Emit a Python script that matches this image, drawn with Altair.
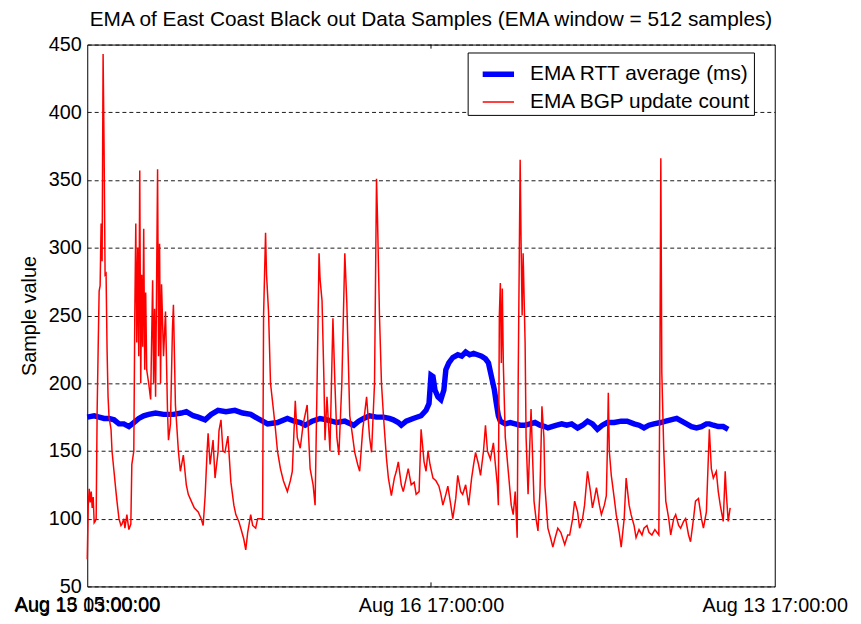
import altair as alt
import pandas as pd

# ---- data ----
series_names = ["EMA RTT average (ms)", "EMA BGP update count"]
series_colors = ["#0000ff", "#ff0000"]
series_widths = [5.5, 1.5]

rtt_sample = [0, 14, 24, 34, 44, 54, 64, 74, 84, 94, 104, 114, 124, 138, 154, 174, 190, 200, 214, 224,
              238, 250, 264, 280, 298, 314, 330, 344, 354, 364, 384, 404, 418, 430, 440, 454, 470, 484,
              504, 520, 538, 548, 558, 570, 584, 598, 610, 618, 628, 634, 644, 658, 674, 684, 690, 694,
              698, 702, 708, 714, 720, 724, 730, 738, 748, 756, 764, 772, 780, 788, 796, 804, 810, 816,
              822, 826, 830, 834, 844, 854, 864, 874, 884, 894, 904, 914, 924, 930, 938, 948, 958, 968,
              978, 990, 1000, 1010, 1020, 1030, 1040, 1050, 1064, 1078, 1090, 1104, 1114, 1124, 1134,
              1144, 1158, 1168, 1178, 1190, 1200, 1210, 1220, 1230, 1240, 1250, 1256, 1264, 1274, 1284, 1294]
rtt_value = [175, 176, 175, 174, 174, 173, 170, 170, 168, 171, 174, 176, 177, 178, 177, 177, 178, 179, 176, 175,
             173, 177, 180, 179, 180, 178, 177, 174, 172, 170, 171, 174, 172, 171, 169, 172, 174, 173,
             171, 172, 169, 172, 174, 176, 175, 175, 174, 173, 171, 169, 172, 174, 176, 180, 185, 206,
             205, 195, 190, 188, 195, 210, 215, 219, 221, 220, 223, 221, 222, 221, 220, 218, 215, 205,
             195, 185, 176, 172, 170, 171, 170, 169, 169, 170, 171, 169, 168, 167, 168, 169, 170, 169,
             170, 167, 169, 172, 170, 166, 169, 171, 171, 172, 172, 170, 169, 167, 169,
             170, 171, 172, 173, 174, 172, 170, 168, 167, 168, 170, 170, 169, 168, 168, 166]

bgp_sample = [0, 2, 4, 6, 8, 10, 12, 14, 16, 18, 20, 22, 24, 26, 28, 30, 32, 34, 36, 38, 40, 42, 44, 48, 50,
              54, 58, 60, 64, 68, 70, 74, 76, 80, 84, 88, 90, 94, 96, 98, 100, 102, 104, 106, 108, 110, 112,
              114, 116, 118, 120, 124, 128, 132, 134, 136, 138, 142, 144, 146, 148, 150, 154, 158, 162, 164,
              168, 172, 174, 178, 184, 188, 194, 200, 204, 210, 216, 224, 230, 234, 238, 242, 244, 248, 254,
              258, 264, 266, 270, 274, 278, 284, 290, 296, 300, 306, 310, 316, 320, 324, 330, 334, 340, 344,
              350, 354, 356, 360, 362, 366, 370, 376, 380, 384, 390, 396, 404, 410, 414, 420, 424, 430, 436,
              444, 450, 456, 460, 464, 468, 470, 474, 478, 480, 484, 490, 496, 500, 504, 508, 514, 520, 524,
              530, 536, 540, 546, 550, 556, 564, 570, 574, 580, 584, 586, 590, 594, 598, 604, 608, 614, 620,
              624, 628, 634, 638, 644, 648, 654, 660, 664, 670, 674, 680, 684, 688, 692, 698, 704, 710, 714,
              718, 724, 728, 734, 738, 744, 748, 754, 758, 764, 770, 776, 780, 784, 790, 794, 800, 804, 808,
              814, 820, 824, 828, 830, 832, 834, 836, 838, 840, 844, 850, 856, 860, 864, 868, 870, 874, 876,
              878, 880, 884, 886, 890, 896, 902, 906, 910, 914, 918, 922, 924, 930, 936, 940, 944, 950, 956,
              964, 970, 974, 980, 984, 990, 994, 1000, 1004, 1010, 1016, 1020, 1024, 1028, 1034, 1038, 1044,
              1048, 1050, 1052, 1054, 1058, 1064, 1068, 1074, 1078, 1084, 1088, 1094, 1098, 1104, 1108, 1114,
              1120, 1124, 1130, 1134, 1140, 1146, 1150, 1154, 1156, 1158, 1160, 1164, 1168, 1174, 1178, 1184,
              1188, 1194, 1198, 1204, 1208, 1214, 1218, 1224, 1228, 1234, 1240, 1244, 1250, 1256, 1260, 1264,
              1270, 1274, 1278, 1284, 1288, 1290, 1294, 1298]
bgp_value = [70, 110, 122, 112, 120, 108, 116, 97, 98, 100, 180, 225, 268, 272, 318, 290, 443, 372, 280, 281, 225, 190, 175, 166, 150,
             135, 120, 113, 100, 95, 96, 100, 93, 103, 92, 96, 140, 150, 250, 318, 230, 300, 220, 357, 200, 280, 227,
             314, 210, 267, 210, 200, 188, 276, 200, 255, 190, 358, 220, 303, 200, 273, 220, 253, 180, 158,
             170, 240, 258, 184, 150, 135, 147, 125, 118, 113, 108, 105, 100, 95, 117, 150, 163, 140, 158,
             130, 149, 165, 173, 150, 149, 161, 127, 110, 103, 98, 93, 85, 77, 90, 103, 95, 93, 100,
             100, 100, 250, 311, 280, 253, 200, 180, 166, 150, 137, 128, 120, 128, 135, 187, 160, 152, 170,
             184, 137, 125, 110, 200, 296, 277, 261, 200, 158, 190, 150, 248, 200, 160, 147, 200, 296, 260,
             176, 160, 149, 140, 135, 165, 190, 160, 149, 200, 351, 322, 250, 200, 176, 145, 130, 117, 130,
             135, 142, 125, 120, 130, 137, 125, 127, 118, 120, 166, 142, 135, 150, 140, 130, 128, 124, 118,
             110, 118, 124, 110, 100, 115, 132, 120, 118, 125, 110, 130, 140, 149, 140, 132, 150, 169, 150,
             144, 156, 140, 125, 110, 250, 274, 215, 270, 215, 160, 135, 110, 103, 120, 86, 200, 365, 300,
             250, 296, 230, 160, 118, 181, 113, 100, 91, 120, 183, 160, 124, 93, 85, 79, 85, 93, 90,
             81, 88, 88, 100, 113, 105, 93, 100, 110, 135, 120, 108, 115, 123, 110, 103, 110,
             117, 150, 193, 150, 132, 115, 103, 90, 79, 100, 130, 110, 103, 95, 86, 92,
             88, 93, 95, 90, 88, 92, 90, 88, 200, 366, 208, 150, 113, 100, 88, 100,
             103, 95, 93, 98, 100, 88, 83, 100, 113, 115, 100, 93, 105, 166, 137, 130,
             135, 120, 110, 98, 135, 120, 98, 108]

x_ticks = [0, 694, 1388]
x_tick_labels = ["Aug 15 03:00:00", "Aug 16 17:00:00", "Aug 13 17:00:00"]
overlap_label = "Aug 13 15:00:00"
y_ticks = [50, 100, 150, 200, 250, 300, 350, 400, 450]
x_domain = [0, 1388]
y_domain = [50, 450]
tick_len = 3

FONT = "Liberation Sans"
FS = 20
TFS = 21

df = pd.concat([
    pd.DataFrame({"sample": rtt_sample, "value": rtt_value, "series": series_names[0]}),
    pd.DataFrame({"sample": bgp_sample, "value": bgp_value, "series": series_names[1]}),
], ignore_index=True)

x_scale = alt.Scale(domain=x_domain, nice=False, zero=False)
y_scale = alt.Scale(domain=y_domain, nice=False, zero=False)

label_expr = ("datum.value == %d ? '%s' : datum.value == %d ? '%s' : '%s'"
              % (x_ticks[0], x_tick_labels[0], x_ticks[1], x_tick_labels[1], x_tick_labels[2]))

x_axis = alt.Axis(values=x_ticks, labelExpr=label_expr, title=None, grid=False,
                  ticks=False, domain=False, labelPadding=9, labelFont=FONT,
                  labelFontSize=FS, labelColor="black", labelFlush=False,
                  labelOverlap=False, labelBound=False)
y_axis = alt.Axis(values=y_ticks, title="Sample value", grid=True, gridColor="black",
                  gridDash=[4, 3], gridOpacity=0.9, ticks=False, domain=False,
                  labelPadding=6, labelFont=FONT, labelFontSize=FS, labelColor="black",
                  titleFont=FONT, titleFontSize=FS, titleFontWeight="normal",
                  titleColor="black", titlePadding=9)

legend = alt.Legend(
    title=None, orient="none", legendX=384, legendY=8, symbolType="stroke",
    symbolSize=1000, labelFont=FONT, labelFontSize=TFS, labelColor="black",
    strokeColor="black", fillColor="white", padding=3, rowPadding=-13,
    labelOffset=13, labelLimit=400, symbolOffset=9,
)

lines = alt.Chart(df).mark_line(strokeCap="butt").encode(
    x=alt.X("sample:Q", scale=x_scale, axis=x_axis),
    y=alt.Y("value:Q", scale=y_scale, axis=y_axis),
    color=alt.Color("series:N", scale=alt.Scale(domain=series_names, range=series_colors), legend=legend),
    strokeWidth=alt.StrokeWidth("series:N", scale=alt.Scale(domain=series_names, range=series_widths), legend=legend),
)

tick_df = pd.DataFrame({
    "sample": [x_ticks[1], x_ticks[1]],
    "value": [y_domain[0], y_domain[1] - tick_len],
    "hi": [y_domain[0] + tick_len, y_domain[1]],
})
ticks = alt.Chart(tick_df).mark_rule(color="black", strokeWidth=1).encode(
    x=alt.X("sample:Q", scale=x_scale, axis=x_axis),
    y=alt.Y("value:Q", scale=y_scale, axis=y_axis),
    y2="hi:Q",
)

over_df = pd.DataFrame({"sample": [x_ticks[0]], "value": [y_domain[0]], "label": [overlap_label]})
over = alt.Chart(over_df).mark_text(baseline="top", align="center", dy=9, font=FONT,
                                    fontSize=FS, color="black").encode(
    x=alt.X("sample:Q", scale=x_scale, axis=x_axis),
    y=alt.Y("value:Q", scale=y_scale, axis=y_axis),
    text="label:N",
)

chart = alt.layer(lines, ticks, over).properties(
    width=694, height=547,
    background="white",
    title=alt.TitleParams("EMA of East Coast Black out Data Samples (EMA window = 512 samples)",
                          font=FONT, fontSize=TFS, fontWeight="normal", color="black",
                          anchor="middle", offset=5),
    autosize=alt.AutoSizeParams(type="none"),
    padding={"left": 80, "top": 34, "right": 79, "bottom": 35},
).configure_view(stroke="black", strokeWidth=1)

chart.save("out.html", embed_options={"renderer": "svg", "actions": False})
